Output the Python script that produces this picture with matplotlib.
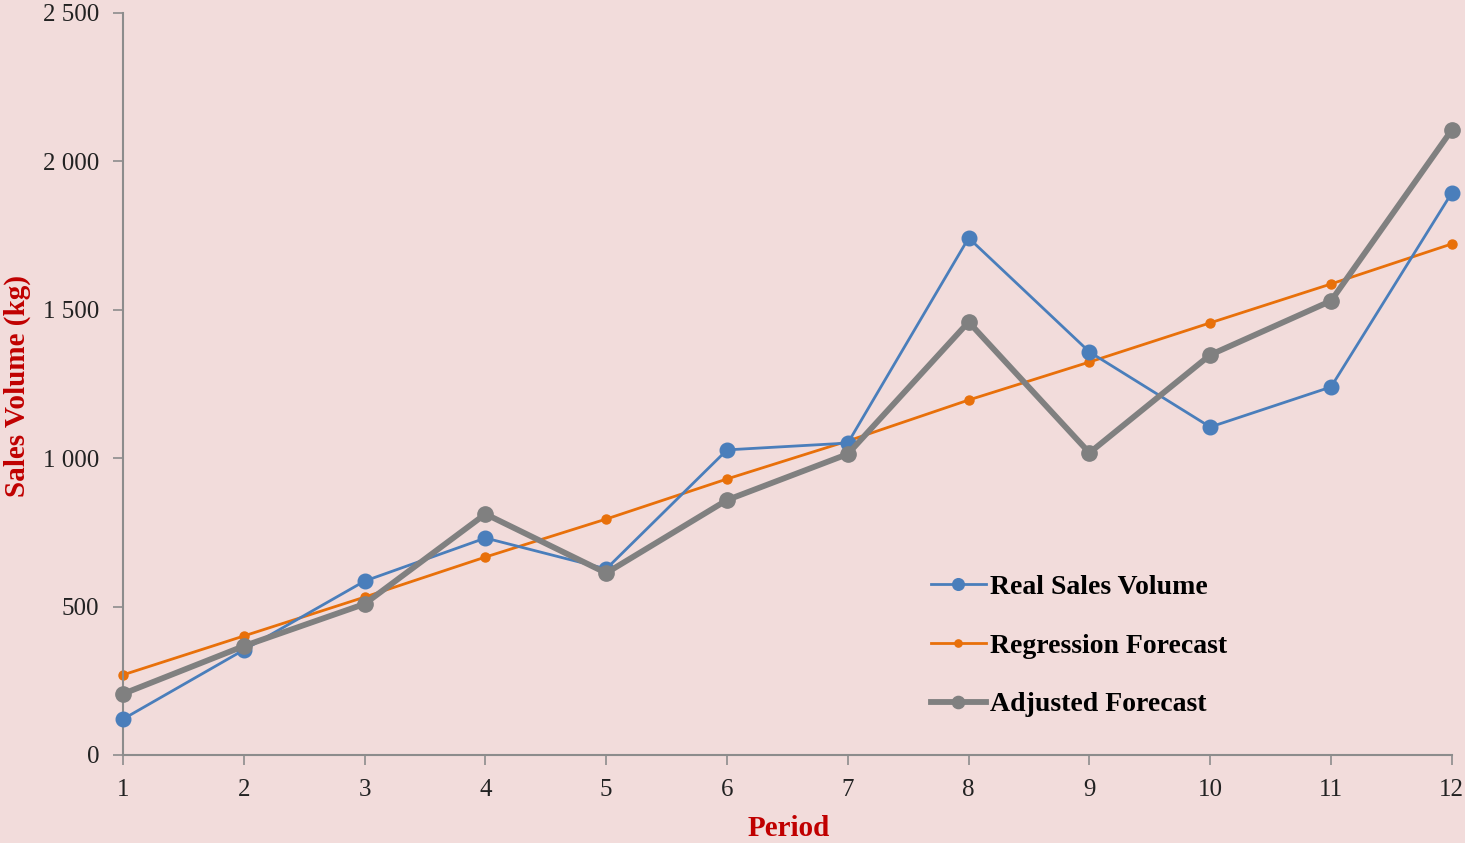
import matplotlib.pyplot as plt
from matplotlib.ticker import FuncFormatter

periods = list(range(1, 13))
real_sales = [121, 354, 586, 731, 627, 1028, 1051, 1742, 1358, 1105, 1240, 1894]
regression = [270, 401, 532, 667, 795, 930, 1058, 1196, 1324, 1456, 1587, 1722]
adjusted = [206, 367, 509, 812, 613, 859, 1014, 1459, 1018, 1348, 1530, 2106]

bg = '#f2dcdb'
plt.rcParams['font.family'] = ['Liberation Serif', 'DejaVu Serif']

fig = plt.figure(figsize=(14.65, 8.43), dpi=100, facecolor=bg)
ax = fig.add_axes([0.084, 0.1044, 0.907, 0.8802], facecolor=bg)

ax.plot(periods, real_sales, color='#4a7ebb', lw=2.0, marker='o', ms=10.5,
        label='Real Sales Volume', zorder=3, clip_on=False)
ax.plot(periods, regression, color='#e8700a', lw=2.0, marker='o', ms=6.5,
        label='Regression Forecast', zorder=2, clip_on=False)
ax.plot(periods, adjusted, color='#808080', lw=4.2, marker='o', ms=11,
        label='Adjusted Forecast', zorder=4, clip_on=False)

ax.set_xlim(1, 12)
ax.set_ylim(0, 2500)
ax.set_xticks(periods)
ax.set_yticks(range(0, 2501, 500))
ax.yaxis.set_major_formatter(FuncFormatter(lambda v, p: f'{int(v):,}'.replace(',', ' ')))

for s in ['top', 'right']:
    ax.spines[s].set_visible(False)
for s in ['left', 'bottom']:
    ax.spines[s].set_color('#8c8c8c')
    ax.spines[s].set_linewidth(1.5)
ax.tick_params(axis='both', colors='#8c8c8c', length=7, width=1.2, labelsize=18,
               labelcolor='#222222', direction='out')
ax.tick_params(axis='x', pad=10)
ax.tick_params(axis='y', pad=10)

# axis titles placed in figure coordinates so they stay inside the canvas
fig.text(789 / 1465, 1 - 829 / 843, 'Period', fontsize=21, fontweight='bold',
         color='#c00000', ha='center', va='center')
fig.text(17 / 1465, 1 - 386 / 843, 'Sales Volume (kg)', fontsize=21, fontweight='bold',
         color='#c00000', ha='center', va='center', rotation=90)

leg = ax.legend(loc='lower left', bbox_to_anchor=(0.589, 0.017), frameon=False,
                prop={'weight': 'bold', 'size': 20}, handlelength=2.0,
                handletextpad=0.15, labelspacing=1.2, markerscale=0.8)

fig.savefig('out.png', dpi=100, facecolor=bg)
